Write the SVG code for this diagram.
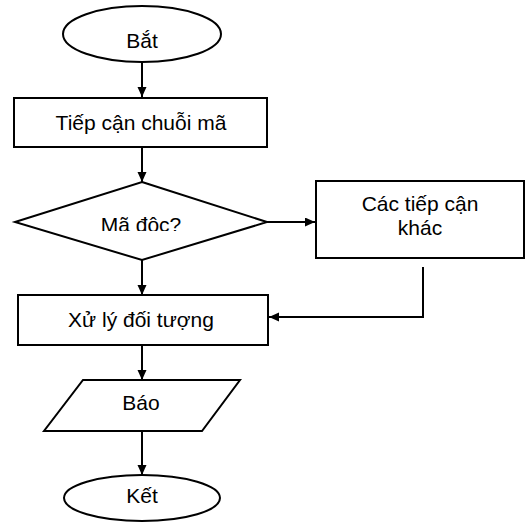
<svg xmlns="http://www.w3.org/2000/svg" width="526" height="523" viewBox="0 0 526 523">
<style>
.s{fill:#fff;stroke:#000;stroke-width:2}
.t{font-family:"Liberation Sans",Arial,sans-serif;font-size:21px;fill:#000;text-anchor:middle}
.c{fill:none;stroke:#000;stroke-width:2}
</style>
<defs>
<marker id="ah" markerUnits="userSpaceOnUse" markerWidth="11" markerHeight="10" refX="10" refY="4.5" orient="auto">
<path d="M0,0 L10,4.5 L0,9 z" fill="#000"/>
</marker>
<clipPath id="clipD"><rect x="0" y="180" width="300" height="51"/></clipPath>
</defs>
<rect width="526" height="523" fill="#fff"/>
<g id="connectors">
<path class="c" d="M142,62 V97" marker-end="url(#ah)"/>
<path class="c" d="M142,147 V182" marker-end="url(#ah)"/>
<path class="c" d="M267,222 H315" marker-end="url(#ah)"/>
<path class="c" d="M142,260 V295" marker-end="url(#ah)"/>
<path class="c" d="M423,267 V317 H269" marker-end="url(#ah)"/>
<path class="c" d="M142,345 V380" marker-end="url(#ah)"/>
<path class="c" d="M142,431 V475" marker-end="url(#ah)"/>
</g>
<g id="start">
<ellipse class="s" cx="142" cy="34" rx="79" ry="28"/>
<text class="t" x="142" y="48">Bắt</text>
</g>
<g id="approach">
<rect class="s" x="14" y="98" width="253" height="49"/>
<text class="t" x="141" y="130">Tiếp cận chuỗi mã</text>
</g>
<g id="decision">
<polygon class="s" points="142,182 267,222 142,260 15,222"/>
<text class="t" x="141" y="232" clip-path="url(#clipD)">Mã độc?</text>
</g>
<g id="other">
<rect class="s" x="316" y="181" width="208" height="77"/>
<text class="t" x="420" y="211">Các tiếp cận</text>
<text class="t" x="420" y="235">khác</text>
</g>
<g id="process">
<rect class="s" x="18" y="295" width="250" height="50"/>
<text class="t" x="141" y="327">Xử lý đối tượng</text>
</g>
<g id="report">
<polygon class="s" points="83,380 240,380 202,431 44,431"/>
<text class="t" x="141" y="410">Báo</text>
</g>
<g id="end">
<ellipse class="s" cx="142" cy="498" rx="78" ry="23"/>
<text class="t" x="142" y="503">Kết</text>
</g>
</svg>
